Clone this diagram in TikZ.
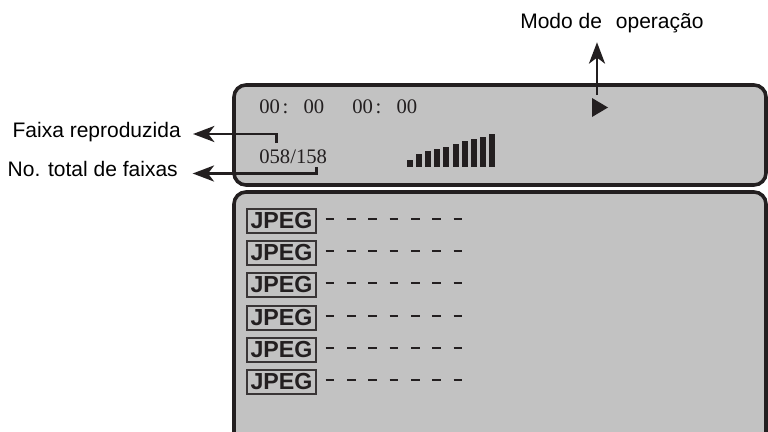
\documentclass[tikz,border=0pt]{standalone}
\usepackage{fontspec}
\setmainfont{Liberation Serif}
\setsansfont{Liberation Sans}
\usepackage{xcolor}
\usepackage{tikz}
\usetikzlibrary{arrows.meta,positioning}
\definecolor{lcdgray}{HTML}{C2C2C2}
\definecolor{lcdink}{HTML}{231F20}

\begin{document}
\begin{tikzpicture}[x=0.75pt,y=-0.75pt,
  panel/.style={draw=lcdink,fill=lcdgray,line width=2.7pt,rounded corners=9pt},
  leader/.style={draw=lcdink,line width=2.2pt,-{Stealth[length=16pt,width=12pt,inset=4.5pt]}},
  lbl/.style={font=\sffamily\fontsize{15.75}{18}\selectfont,inner sep=0pt,text height=4.6pt,text depth=0pt},
  lcdtext/.style={font=\fontsize{15.5}{18}\selectfont,text=lcdink,inner sep=0pt},
  filetag/.style={draw=lcdink!90,line width=1.1pt,minimum width=51.75pt,minimum height=18pt,inner sep=0pt,
    font=\sffamily\bfseries\fontsize{17.4}{20}\selectfont,text=lcdink},
  blank/.style={draw=lcdink,line width=0.9pt,dash pattern=on 6.5pt off 9.5pt}]
\clip (0,0) rectangle (768,432);
\fill[white] (0,0) rectangle (768,432);

% display
\draw[panel] (234,85) rectangle (766,185);
\draw[panel] (234,192) rectangle (766,445);

\node[lcdtext,anchor=base west] (time1) at (259,113) {00\hspace{2pt}:\hspace{11.5pt}00};
\node[lcdtext,anchor=base west] (time2) at (352,113) {00\hspace{2pt}:\hspace{11.5pt}00};
\node[lcdtext,anchor=base west] (track) at (259,163) {058/158};

\fill[lcdink] (592,98) -- (608,107.5) -- (592,117) -- cycle;
\coordinate (play) at (597,95);

\foreach \i/\h in {0/7,1/13,2/16,3/18,4/20,5/23,6/26,7/28,8/30,9/33}
  \fill[lcdink] (407+9.1*\i,167) rectangle ++(6,-\h);

% file list
\foreach \i/\y in {1/221,2/253,3/285,4/318,5/350,6/382} {
  \node[filetag] (jpeg\i) at (281.5,\y) {JPEG};
  \draw[blank] ([xshift=6.75pt,yshift=1.5pt]jpeg\i.east) -- ++(137.3,0);
}

% callouts
\node[lbl,anchor=east] (faixa) at (181,134) {Faixa reproduzida};
\node[lbl,anchor=east] (total) at (178,173.5) {No. total de faixas};
\node[lbl,anchor=base west] (modo) at (520,28) {Modo de\hspace{10.5pt}operação};
\coordinate (cur) at (276.5,143);
\coordinate (tot) at (316.5,167);
\draw[leader,shorten >=9pt] (cur) |- (faixa);
\draw[leader,shorten >=11pt] (tot) |- (total);
\draw[leader,shorten >=10.5pt] (play) -- (play |- modo.south);
\end{tikzpicture}
\end{document}
